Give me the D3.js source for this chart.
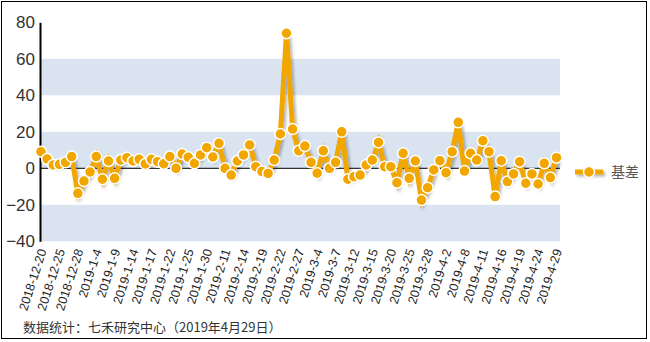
<!DOCTYPE html>
<html><head><meta charset="utf-8">
<script src="https://cdn.jsdelivr.net/npm/d3@7/dist/d3.min.js"></script>
<style>
html,body{margin:0;padding:0;background:#fff;}
svg{display:block;font-family:"Liberation Sans",Arial,sans-serif;}
</style></head>
<body>
<svg id="c" width="650" height="342"></svg>
<script>
const dates = ["2018-12-20","2018-12-21","2018-12-24","2018-12-25","2018-12-26","2018-12-27","2018-12-28",
"2019-1-2","2019-1-3","2019-1-4","2019-1-7","2019-1-8","2019-1-9","2019-1-10","2019-1-11","2019-1-14",
"2019-1-15","2019-1-16","2019-1-17","2019-1-18","2019-1-21","2019-1-22","2019-1-23","2019-1-24","2019-1-25",
"2019-1-28","2019-1-29","2019-1-30","2019-1-31","2019-2-1","2019-2-11","2019-2-12","2019-2-13","2019-2-14",
"2019-2-15","2019-2-18","2019-2-19","2019-2-20","2019-2-21","2019-2-22","2019-2-25","2019-2-26","2019-2-27",
"2019-2-28","2019-3-1","2019-3-4","2019-3-5","2019-3-6","2019-3-7","2019-3-8","2019-3-11","2019-3-12",
"2019-3-13","2019-3-14","2019-3-15","2019-3-18","2019-3-19","2019-3-20","2019-3-21","2019-3-22","2019-3-25",
"2019-3-26","2019-3-27","2019-3-28","2019-3-29","2019-4-1","2019-4-2","2019-4-3","2019-4-4","2019-4-8",
"2019-4-9","2019-4-10","2019-4-11","2019-4-12","2019-4-15","2019-4-16","2019-4-17","2019-4-18","2019-4-19",
"2019-4-22","2019-4-23","2019-4-24","2019-4-25","2019-4-26","2019-4-29"];
const basis = [9.1,5.1,1.8,2.2,3.3,6.4,-13.7,-7,-2,6.4,-6,4,-5.5,4.5,5.8,
4,4.9,2.4,4.9,3.6,2.5,6.4,0,7.8,6,2.7,7.3,11.3,6.2,13.7,
0,-3.7,4,7.3,12.8,0.9,-1.8,-2.8,4.5,18.8,74,21.5,9.6,12.2,3.3,
-2.7,9.6,0,3.3,20,-6,-4.6,-3.7,1.8,4.5,14.2,0.9,0.9,-7.9,8.2,
-5.5,4,-17.4,-10.6,-0.9,4.2,-2.4,9.1,25.2,-1.5,8.2,4.5,15.1,9.1,-15.5,
4.2,-7.3,-3.1,3.6,-8.2,-3.1,-8.6,2.7,-5.1,5.8];
const tickLabels = ["2018-12-20","2018-12-25","2018-12-28","2019-1-4","2019-1-9","2019-1-14","2019-1-17",
"2019-1-22","2019-1-25","2019-1-30","2019-2-11","2019-2-14","2019-2-19","2019-2-22","2019-2-27","2019-3-4",
"2019-3-7","2019-3-12","2019-3-15","2019-3-20","2019-3-25","2019-3-28","2019-4-2","2019-4-8","2019-4-11",
"2019-4-16","2019-4-19","2019-4-24","2019-4-29"];
const yTicks = [-40,-20,0,20,40,60,80];
const seriesName = "基差";
const footer = "数据统计：七禾研究中心（2019年4月29日）";

const svg = d3.select("#c");
const color = "#f2a600";
const left = 40, right = 560;

// frame
svg.append("rect").attr("x",1.5).attr("y",1.5).attr("width",645).attr("height",337)
  .attr("fill","none").attr("stroke","#000").attr("stroke-width",1);

const defs = svg.append("defs");
const f = defs.append("filter").attr("id","sh").attr("filterUnits","userSpaceOnUse")
  .attr("x",0).attr("y",0).attr("width",650).attr("height",342);
f.append("feDropShadow").attr("dx",2).attr("dy",2).attr("stdDeviation",1.5).attr("flood-color","#000").attr("flood-opacity",0.3);

const x = d3.scalePoint().domain(dates).range([41, 556.5]);
const y = d3.scaleLinear().domain([-40,80]).range([241.3, 22.3]);

// bands
[[40,60],[0,20],[-40,-20]].forEach(b=>{
  svg.append("rect").attr("x",left).attr("width",right-left)
    .attr("y",y(b[1])).attr("height",y(b[0])-y(b[1])).attr("fill","#d9e4f0");
});

// zero line
svg.append("line").attr("x1",left).attr("x2",right).attr("y1",y(0)).attr("y2",y(0))
  .attr("stroke","#000").attr("stroke-width",1);

// y axis
const ya = svg.append("g").attr("transform",`translate(${left},0)`)
  .call(d3.axisLeft(y).tickValues(yTicks).tickSize(0).tickPadding(5));
ya.select(".domain").attr("stroke","#000").attr("stroke-width",2);
ya.selectAll("text").attr("font-size",17).attr("fill","#333").attr("font-family","'Liberation Sans',Arial,sans-serif");

// x axis labels
const xa = svg.append("g").attr("transform",`translate(0,${y(-40)})`)
  .call(d3.axisBottom(x).tickValues(tickLabels).tickSize(0).tickPadding(0));
xa.select(".domain").remove();
xa.selectAll("text").attr("font-size",12.5).attr("fill","#222")
  .attr("font-family","'Liberation Sans',Arial,sans-serif")
  .attr("text-anchor","end").attr("dy","0.35em")
  .attr("transform","translate(1,8) rotate(-72)").attr("x",0).attr("y",0);

// line
const line = d3.line().x((d,i)=>x(dates[i])).y(d=>y(d));
svg.append("path").datum(basis).attr("d",line).attr("fill","none")
  .attr("stroke",color).attr("stroke-width",5).attr("stroke-linejoin","miter").attr("filter","url(#sh)");
svg.append("g").selectAll("circle").data(basis).join("circle")
  .attr("cx",(d,i)=>x(dates[i])).attr("cy",d=>y(d)).attr("r",5.5)
  .attr("fill",color).attr("stroke","#fff").attr("stroke-width",1.5);

// legend
const lg = svg.append("g");
lg.append("line").attr("x1",575).attr("x2",603).attr("y1",172).attr("y2",172)
  .attr("stroke",color).attr("stroke-width",5).attr("filter","url(#sh)");
lg.append("circle").attr("cx",589).attr("cy",172).attr("r",5.5).attr("fill",color)
  .attr("stroke","#fff").attr("stroke-width",1.5);
lg.append("text").attr("x",611).attr("y",177).attr("font-size",14).attr("fill","#555")
  .attr("font-family","'Noto Sans CJK SC',sans-serif").text(seriesName);

// footer
svg.append("text").attr("x",23).attr("y",332).attr("font-size",13).attr("fill","#333")
  .attr("font-family","'Noto Sans CJK SC',sans-serif").text(footer);
</script>
</body></html>
